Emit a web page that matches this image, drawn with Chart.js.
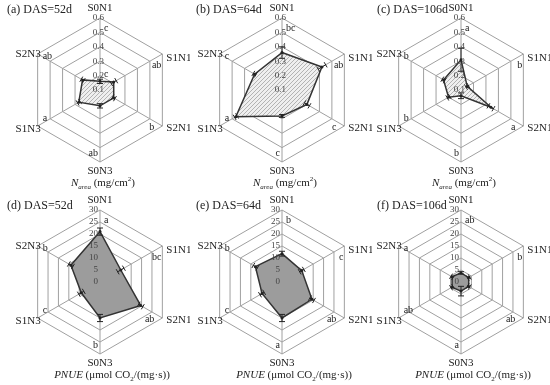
<!DOCTYPE html>
<html>
<head>
<meta charset="utf-8">
<script src="https://cdn.jsdelivr.net/npm/chart.js@4/dist/chart.umd.min.js"></script>
<style>
  body { margin: 0; width: 550px; height: 385px; position: relative; overflow: hidden; background: #fff;
         font-family: "Liberation Serif", "DejaVu Serif", serif; color: #222; }
  canvas { position: absolute; }
  .ttl { position: absolute; font-size: 12px; white-space: nowrap; line-height: 12px; }
  .axt { position: absolute; font-size: 11px; white-space: nowrap; line-height: 12px; transform: translateX(-50%); }
  .axt sub, .axt sup { font-size: 7px; line-height: 0; }
</style>
</head>
<body>
<script>
// shared axes
const categories = ['S0N1', 'S1N1', 'S2N1', 'S0N3', 'S1N3', 'S2N3'];
const nareaTicks = [0.1, 0.2, 0.3, 0.4, 0.5, 0.6];
const pnueTicks = [0, 5, 10, 15, 20, 25, 30];

// N area (mg/cm2)
const narea52 = [0.16, 0.21, 0.21, 0.21, 0.27, 0.24];
const narea52Err = [0.015, 0.02, 0.01, 0.015, 0.01, 0.01];
const narea52Sig = ['c', 'ab', 'b', 'ab', 'a', 'ab'];

const narea64 = [0.36, 0.42, 0.30, 0.28, 0.47, 0.32];
const narea64Err = [0.04, 0.03, 0.02, 0.01, 0.01, 0.01];
const narea64Sig = ['bc', 'ab', 'c', 'c', 'a', 'c'];

const narea106 = [0.31, 0.15, 0.34, 0.14, 0.20, 0.24];
const narea106Err = [0.08, 0.01, 0.02, 0.02, 0.01, 0.01];
const narea106Sig = ['a', 'b', 'a', 'b', 'b', 'b'];

// PNUE (umol CO2/(mg s))
const pnue52 = [21, 10, 19.6, 15, 9, 14];
const pnue52Err = [1.5, 1.5, 1, 1.5, 1.2, 1];
const pnue52Sig = ['a', 'bc', 'ab', 'b', 'c', 'b'];

const pnue64 = [11.8, 9.5, 14.4, 15, 9.6, 12.8];
const pnue64Err = [1, 1, 1, 1.5, 1, 1];
const pnue64Sig = ['b', 'c', 'ab', 'a', 'c', 'b'];

const pnue106 = [3.8, 3.7, 3.7, 3.8, 4.3, 4.3];
const pnue106Err = [0.5, 0.5, 0.5, 2, 0.5, 0.5];
const pnue106Sig = ['ab', 'b', 'ab', 'a', 'ab', 'a'];

const nareaTitle = '<i>N</i><sub><i>area</i></sub> (mg/cm<sup>2</sup>)';
const pnueTitle = '<i>PNUE</i> (μmol CO<sub>2</sub>/(mg·s))';

const panels = [
  { id: 'a', cx: 100, cy: 90, title: '(a) DAS=52d', tx: 7, ty: 3, values: narea52, errors: narea52Err, sig: narea52Sig, kind: 'narea' },
  { id: 'b', cx: 282, cy: 90, title: '(b) DAS=64d', tx: 196, ty: 3, values: narea64, errors: narea64Err, sig: narea64Sig, kind: 'narea' },
  { id: 'c', cx: 461, cy: 90, title: '(c) DAS=106d', tx: 377, ty: 3, values: narea106, errors: narea106Err, sig: narea106Sig, kind: 'narea' },
  { id: 'd', cx: 100, cy: 282, title: '(d) DAS=52d', tx: 7, ty: 199, values: pnue52, errors: pnue52Err, sig: pnue52Sig, kind: 'pnue' },
  { id: 'e', cx: 282, cy: 282, title: '(e) DAS=64d', tx: 196, ty: 199, values: pnue64, errors: pnue64Err, sig: pnue64Sig, kind: 'pnue' },
  { id: 'f', cx: 461, cy: 282, title: '(f) DAS=106d', tx: 377, ty: 199, values: pnue106, errors: pnue106Err, sig: pnue106Sig, kind: 'pnue' }
];

// label placement relative to the outer vertex of each axis
const labelPlace = [
  { dx: 0, dy: -10, align: 'center' },
  { dx: 4, dy: 4, align: 'left' },
  { dx: 4, dy: 2, align: 'left' },
  { dx: 0, dy: 9, align: 'center' },
  { dx: 3, dy: 3, align: 'right' },
  { dx: 3, dy: 0, align: 'right' }
];
const sigPlace = [
  { dx: 4, dy: 10, align: 'left' },
  { dx: -1, dy: 11, align: 'right' },
  { dx: -8, dy: 1, align: 'right' },
  { dx: -2, dy: -9, align: 'right' },
  { dx: 5, dy: -8, align: 'left' },
  { dx: 5, dy: 2, align: 'left' }
];

function makeHatch() {
  const t = document.createElement('canvas');
  t.width = 4; t.height = 4;
  const g = t.getContext('2d');
  g.fillStyle = '#efefef';
  g.fillRect(0, 0, 4, 4);
  g.strokeStyle = '#999';
  g.lineWidth = 0.7;
  g.beginPath();
  g.moveTo(0, 4); g.lineTo(4, 0);
  g.moveTo(-1, 1); g.lineTo(1, -1);
  g.moveTo(3, 5); g.lineTo(5, 3);
  g.stroke();
  return g.createPattern(t, 'repeat');
}

function extras(p) {
  const tickVals = p.kind === 'narea' ? nareaTicks : pnueTicks;
  return {
    id: 'extras_' + p.id,
    afterDatasetsDraw(chart) {
      const r = chart.scales.r, ctx = chart.ctx;
      ctx.save();
      ctx.strokeStyle = '#222';
      ctx.lineWidth = 1;
      p.values.forEach((v, i) => {
        const lo = r.getPointPositionForValue(i, v - p.errors[i]);
        const hi = r.getPointPositionForValue(i, v + p.errors[i]);
        const a = r.getIndexAngle(i) - Math.PI / 2;
        const nx = -Math.sin(a) * 3, ny = Math.cos(a) * 3;
        ctx.beginPath();
        ctx.moveTo(lo.x, lo.y); ctx.lineTo(hi.x, hi.y);
        [lo, hi].forEach(q => { ctx.moveTo(q.x - nx, q.y - ny); ctx.lineTo(q.x + nx, q.y + ny); });
        ctx.stroke();
      });
      ctx.restore();
    },
    afterDraw(chart) {
      const r = chart.scales.r, ctx = chart.ctx;
      ctx.save();
      ctx.textBaseline = 'middle';
      // tick labels along the top axis
      ctx.font = '9px "Liberation Serif"';
      ctx.fillStyle = '#444';
      ctx.textAlign = 'right';
      const shift = p.kind === 'narea' ? 4 : -2;
      tickVals.forEach(t => {
        const y = r.yCenter - r.getDistanceFromCenterForValue(t);
        ctx.fillText(p.kind === 'narea' ? t.toFixed(1) : String(t), r.xCenter + shift, y);
      });
      // category labels
      ctx.font = '11px "Liberation Serif"';
      ctx.fillStyle = '#222';
      categories.forEach((c, i) => {
        const v = r.getPointPosition(i, r.drawingArea);
        const lp = labelPlace[i];
        ctx.textAlign = lp.align;
        ctx.fillText(c, v.x + lp.dx, v.y + lp.dy);
      });
      // significance letters
      ctx.font = '10px "Liberation Serif"';
      p.sig.forEach((s, i) => {
        const v = r.getPointPosition(i, r.drawingArea);
        const sp = sigPlace[i];
        ctx.textAlign = sp.align;
        ctx.fillText(s, v.x + sp.dx, v.y + sp.dy);
      });
      if (p.id === 'a') {
        const q = r.getPointPositionForValue(0, 0.21);
        ctx.textAlign = 'left';
        ctx.fillText('c', q.x + 4, q.y);
      }
      ctx.restore();
    }
  };
}

const hatch = makeHatch();

panels.forEach(p => {
  const W = 190, H = 192;
  const cv = document.createElement('canvas');
  cv.width = W; cv.height = H;
  cv.style.left = (p.cx - 100) + 'px';
  cv.style.top = (p.cy - 90) + 'px';
  document.body.appendChild(cv);

  const isN = p.kind === 'narea';
  new Chart(cv.getContext('2d'), {
    type: 'radar',
    data: {
      labels: categories,
      datasets: [{
        data: p.values,
        fill: true,
        backgroundColor: isN ? hatch : '#9c9c9c',
        borderColor: '#333',
        borderWidth: 1.5,
        pointRadius: 1.5,
        pointBackgroundColor: '#222',
        pointBorderWidth: 0
      }]
    },
    options: {
      responsive: false,
      animation: false,
      layout: { padding: { left: 28, top: 18, right: W - 100 - 72, bottom: H - 90 - 72 } },
      plugins: { legend: { display: false }, tooltip: { enabled: false } },
      scales: {
        r: {
          min: isN ? 0.1 : 0,
          max: isN ? 0.6 : 30,
          ticks: { stepSize: isN ? 0.1 : 5, display: false },
          grid: { color: '#a0a0a0', lineWidth: 1 },
          angleLines: { color: '#a0a0a0', lineWidth: 1 },
          pointLabels: { display: false }
        }
      }
    },
    plugins: [extras(p)]
  });

  const t = document.createElement('div');
  t.className = 'ttl';
  t.style.left = p.tx + 'px';
  t.style.top = p.ty + 'px';
  t.textContent = p.title;
  document.body.appendChild(t);

  const ax = document.createElement('div');
  ax.className = 'axt';
  ax.style.left = (isN ? p.cx + 3 : p.cx + 12) + 'px';
  ax.style.top = (p.cy + 86) + 'px';
  ax.innerHTML = isN ? nareaTitle : pnueTitle;
  document.body.appendChild(ax);
});
</script>
</body>
</html>
